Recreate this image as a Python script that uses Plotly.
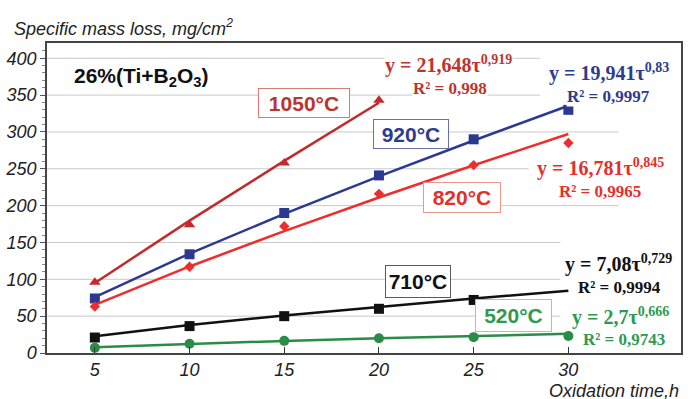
import plotly.graph_objects as go

# Oxidation of 26%(Ti+B2O3) coatings: specific mass loss vs time at five temperatures
temps = ["1050°C", "920°C", "820°C", "710°C", "520°C"]

t_1050 = [5, 10, 15, 20]
m_1050 = [96, 174, 258, 343]
t_920 = [5, 10, 15, 20, 25, 30]
m_920 = [74, 134, 190, 241, 290, 330]
t_820 = [5, 10, 15, 20, 25, 30]
m_820 = [63, 117, 172, 216, 255, 285]
t_710 = [5, 10, 15, 20, 25]
m_710 = [21, 36.5, 50, 60, 72]
t_520 = [5, 10, 15, 20, 25, 30]
m_520 = [7, 12.5, 16.5, 20, 21.5, 23]

# power-law trend lines y = a * tau^b, as labelled on the chart
fit_a = [21.648, 19.941, 16.781, 7.08, 2.7]
fit_b = [0.919, 0.83, 0.845, 0.729, 0.666]
fit_r2 = ["0,998", "0,9997", "0,9965", "0,9994", "0,9743"]
fit_t = [[5, 10, 15, 20], [5, 10, 15, 20, 25, 30], [5, 10, 15, 20, 25, 30],
         [5, 10, 15, 20, 25, 30], [5, 10, 15, 20, 25, 30]]

x_ticks = [5, 10, 15, 20, 25, 30]
y_ticks = [0, 50, 100, 150, 200, 250, 300, 350, 400]

line_colors = ["#c32a2c", "#2b3990", "#ee2e2e", "#111111", "#2a8c47"]
text_colors = ["#bb3530", "#2e3b8f", "#e2302c", "#111111", "#2f9a4f"]
box_colors = ["#d57c74", "#6a70ae", "#e99890", "#5a5a5a", "#9ccda2"]
symbols = ["triangle-up", "square", "diamond", "square", "circle"]
msizes = [10, 10, 8, 10, 10]

series = [(t_1050, m_1050), (t_920, m_920), (t_820, m_820), (t_710, m_710), (t_520, m_520)]

fig = go.Figure()

# horizontal grid lines (stop short of the trend-line labels)
grid_end = {50: 29.58, 100: 29.58, 150: 29.58, 200: 32.63, 250: 27.9,
            300: 32.63, 350: 28.5, 400: 28.5}
for yv, xe in grid_end.items():
    fig.add_shape(type="line", x0=2.474, x1=xe, y0=yv, y1=yv, xref="x", yref="y",
                  line=dict(color="#c9c9c9", width=1), layer="below")

for i, (ts, ms) in enumerate(series):
    a, b = fit_a[i], fit_b[i]
    ft = fit_t[i]
    fig.add_trace(go.Scatter(x=ft, y=[a * t ** b for t in ft], mode="lines",
                             line=dict(color=line_colors[i], width=2.5),
                             showlegend=False, hoverinfo="skip"))
    fig.add_trace(go.Scatter(x=ts, y=ms, mode="markers", name=temps[i],
                             marker=dict(symbol=symbols[i], size=msizes[i],
                                         color=line_colors[i]),
                             showlegend=False))

# temperature labels in boxes
box_pos = [(16.05, 339.0, 92, 30), (21.68, 297.0, 76, 30), (24.37, 210.8, 78, 31),
           (22.05, 96.9, 66, 33), (27.08, 50.8, 77, 33)]
for i, (bx, by, bw, bh) in enumerate(box_pos):
    fig.add_annotation(x=bx, y=by, xref="x", yref="y", text=temps[i], showarrow=False,
                       font=dict(family="Liberation Sans, Arial", size=21,
                                 color=text_colors[i], weight="bold"),
                       bgcolor="white", bordercolor=box_colors[i], borderwidth=1,
                       borderpad=2, width=bw - 6, height=bh - 6)

# trend-line equations
eq_pos = [((23.66, 391.5), (23.76, 359.5)), ((32.13, 380.7), (32.13, 348.6)),
          ((31.71, 251.8), (31.66, 219.8)), ((32.66, 122.0), (32.68, 89.5)),
          ((32.76, 50.2), (32.95, 18.3))]


def fmt(v):
    return f"{v:g}".replace(".", ",")


for i, ((ex, ey), (rx, ry)) in enumerate(eq_pos):
    fig.add_annotation(x=ex, y=ey, xref="x", yref="y", showarrow=False,
                       text=f"y = {fmt(fit_a[i])}τ<sup>{fmt(fit_b[i])}</sup>",
                       font=dict(family="Liberation Serif, Times New Roman", size=20,
                                 color=text_colors[i], weight="bold"),
                       bgcolor="white", borderpad=0)
    fig.add_annotation(x=rx, y=ry, xref="x", yref="y", showarrow=False,
                       text=f"R² = {fit_r2[i]}",
                       font=dict(family="Liberation Serif, Times New Roman", size=17,
                                 color=text_colors[i], weight="bold"),
                       bgcolor="white", borderpad=0)

fig.add_annotation(x=7.42, y=374.2, xref="x", yref="y", showarrow=False,
                   text="26%(Ti+B<sub>2</sub>O<sub>3</sub>)",
                   font=dict(family="Liberation Sans, Arial", size=21, color="#111111",
                             weight="bold"))

fig.add_annotation(x=-0.055, y=1.05, xref="paper", yref="paper", showarrow=False,
                   xanchor="left", yanchor="middle",
                   text="Specific mass loss, mg/cm<sup>2</sup>",
                   font=dict(family="Liberation Sans, Arial", size=18, color="#222222",
                             style="italic"))
fig.add_annotation(x=1.0, y=-0.1194, xref="paper", yref="paper", showarrow=False,
                   xanchor="right", yanchor="middle", text="Oxidation time,h",
                   height=17,
                   font=dict(family="Liberation Sans, Arial", size=18, color="#222222",
                             style="italic"))

tick_font = dict(family="Liberation Sans, Arial", size=18, color="#222222", style="italic")

fig.update_layout(
    width=688, height=399,
    margin=dict(l=47, r=5, t=43, b=46),
    paper_bgcolor="white", plot_bgcolor="white",
    xaxis=dict(range=[2.474, 35.947], tickvals=x_ticks, ticks="inside", ticklen=6,
               tickcolor="#333333", showgrid=False, zeroline=False,
               showline=True, linecolor="#444444", linewidth=1.5, mirror=True,
               tickfont=tick_font),
    yaxis=dict(range=[0, 420.7], tickvals=y_ticks, ticks="outside", ticklen=5,
               tickcolor="#555555", showgrid=False, zeroline=False,
               showline=True, linecolor="#444444", linewidth=1.5, mirror=True,
               tickfont=tick_font, ticklabelstandoff=0,
               minor=dict(tickvals=[v for v in range(10, 420, 10) if v % 50],
                          ticks="outside", ticklen=3, tickcolor="#888888")),
)

fig.write_html("out.html")
